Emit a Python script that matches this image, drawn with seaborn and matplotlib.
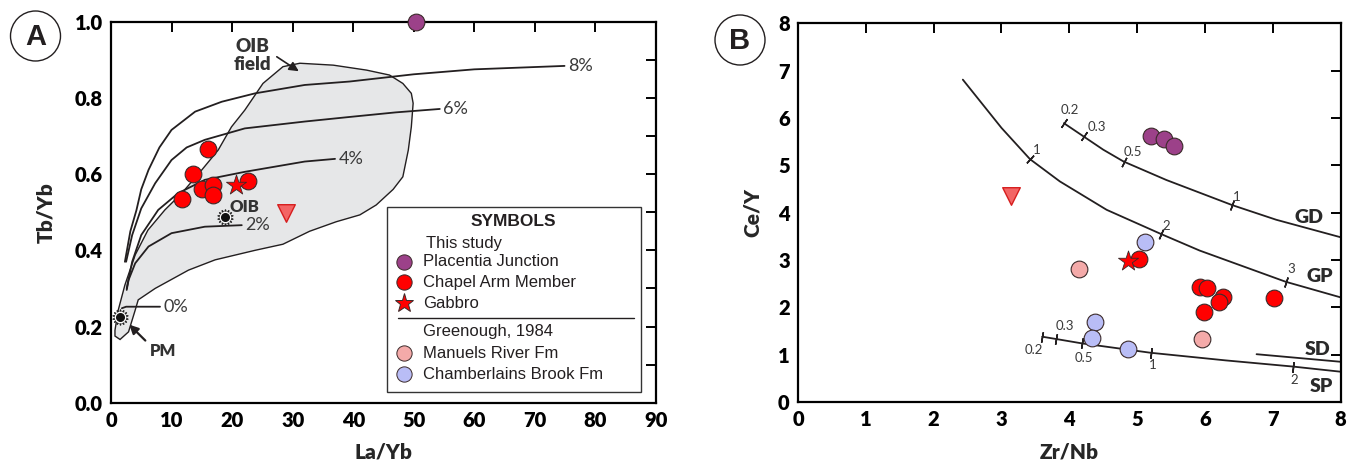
import numpy as np
import pandas as pd
import matplotlib
matplotlib.use("Agg")
import matplotlib.pyplot as plt
import seaborn as sns
from matplotlib.patches import Polygon, Ellipse, Rectangle
from matplotlib.lines import Line2D

# ---------------- Panel A data (La/Yb vs Tb/Yb) ----------------
a_pj_x = [50.3]
a_pj_y = [1.0]
a_ca_x = [16.0, 13.6, 15.0, 16.9, 16.9, 11.8, 22.7]
a_ca_y = [0.666, 0.600, 0.561, 0.571, 0.545, 0.534, 0.583]
a_gab_x = [20.6]
a_gab_y = [0.571]
a_tri_x = [28.9]
a_tri_y = [0.497]
a_ref_x = [18.9, 1.5]      # OIB, PM
a_ref_y = [0.487, 0.224]

oib_field_x = [1.5, 2.9, 4.0, 4.5, 7.3, 12.8, 17.2, 23.8, 28.4, 32.8, 37.2, 41.1, 43.8,
               46.6, 48.2, 49.1, 49.6, 49.9, 49.6, 48.2, 46.0, 42.2, 36.7, 31.2, 28.4,
               25.1, 22.1, 19.9, 17.7, 15.0, 11.7, 8.9, 6.1, 4.0, 2.3, 1.2, 0.66, 0.66]
oib_field_y = [0.166, 0.186, 0.243, 0.27, 0.30, 0.348, 0.375, 0.40, 0.416, 0.45, 0.475,
               0.493, 0.519, 0.56, 0.593, 0.663, 0.724, 0.786, 0.812, 0.838, 0.860,
               0.873, 0.886, 0.891, 0.882, 0.838, 0.768, 0.724, 0.663, 0.611, 0.55,
               0.506, 0.453, 0.388, 0.309, 0.243, 0.19, 0.175]

melt8_x = [2.3, 3.2, 4.2, 5.0, 6.2, 8.0, 10.0, 13.9, 18.3, 23.8, 32.0, 39.4, 50.0, 60.0, 74.9]
melt8_y = [0.37, 0.45, 0.505, 0.56, 0.611, 0.67, 0.716, 0.764, 0.79, 0.812, 0.834, 0.843, 0.862, 0.875, 0.884]
melt6_x = [2.5, 3.5, 5.0, 7.3, 10.0, 12.5, 15.5, 22.1, 32.0, 39.4, 47.0, 54.3]
melt6_y = [0.37, 0.44, 0.51, 0.576, 0.637, 0.67, 0.69, 0.72, 0.738, 0.750, 0.762, 0.771]
melt4_x = [2.6, 3.5, 5.0, 7.8, 11.1, 15.5, 22.1, 32.0, 37.0]
melt4_y = [0.30, 0.37, 0.44, 0.506, 0.55, 0.585, 0.606, 0.633, 0.640]
melt2_x = [2.6, 2.9, 4.0, 6.2, 10.0, 15.5, 21.6]
melt2_y = [0.296, 0.322, 0.366, 0.41, 0.445, 0.462, 0.466]
melt0_x = [1.8, 2.5, 8.1]
melt0_y = [0.248, 0.252, 0.252]
melt_labels = ["8%", "6%", "4%", "2%", "0%"]
melt_label_x = [74.9, 54.3, 37.0, 21.6, 8.1]
melt_label_y = [0.884, 0.771, 0.640, 0.466, 0.252]

# ---------------- Panel B data (Zr/Nb vs Ce/Y) ----------------
b_pj_x = [5.20, 5.39, 5.55]
b_pj_y = [5.61, 5.55, 5.40]
b_ca_x = [5.03, 5.92, 6.03, 6.27, 6.20, 5.98, 7.01]
b_ca_y = [3.02, 2.42, 2.40, 2.21, 2.12, 1.91, 2.19]
b_gab_x = [4.87]
b_gab_y = [2.97]
b_tri_x = [3.14]
b_tri_y = [4.36]
b_mr_x = [4.14, 5.95]
b_mr_y = [2.80, 1.33]
b_cb_x = [5.11, 4.38, 4.33, 4.87]
b_cb_y = [3.38, 1.68, 1.36, 1.12]

gd_x = [3.92, 4.21, 4.50, 4.80, 5.43, 6.40, 7.05, 8.0]
gd_y = [5.89, 5.61, 5.33, 5.08, 4.69, 4.16, 3.85, 3.48]
gp_x = [2.43, 3.0, 3.42, 3.86, 4.55, 5.35, 5.92, 7.19, 8.0]
gp_y = [6.81, 5.79, 5.13, 4.66, 4.06, 3.55, 3.20, 2.54, 2.21]
sp_x = [3.60, 3.81, 4.18, 5.20, 6.30, 7.29, 8.0]
sp_y = [1.38, 1.33, 1.24, 1.04, 0.88, 0.75, 0.64]
sd_x = [6.76, 8.0]
sd_y = [1.01, 0.85]

gd_tick_x = [3.92, 4.21, 4.80, 6.40]
gd_tick_lab = ["0.2", "0.3", "0.5", "1"]
gd_lab_x = [4.01, 4.40, 4.94, 6.47]
gd_lab_y = [6.17, 5.81, 5.29, 4.34]
gp_tick_x = [3.42, 5.35, 7.19]
gp_tick_lab = ["1", "2", "3"]
gp_lab_x = [3.52, 5.43, 7.27]
gp_lab_y = [5.33, 3.72, 2.81]
sp_tick_x = [3.60, 3.81, 4.18, 5.20, 7.29]
sp_tick_lab = ["0.2", "0.3", "0.5", "1", "2"]
sp_lab_x = [3.47, 3.93, 4.21, 5.23, 7.32]
sp_lab_y = [1.10, 1.61, 0.94, 0.78, 0.47]
curve_names = ["GD", "GP", "SD", "SP"]
curve_name_x = [7.54, 7.69, 7.66, 7.71]
curve_name_y = [3.89, 2.66, 1.10, 0.32]

# ---------------- style ----------------
sns.set_style("white")
plt.rcParams["font.family"] = ["Lato", "DejaVu Sans"]
plt.rcParams["axes.linewidth"] = 1.5

C_PJ = "#9c4189"
C_RED = "#ff0000"
C_TRI = "#f36565"
C_MR = "#f4aaa9"
C_CB = "#b9bdf6"
C_LINE = "#231f20"
C_TXT = "#3a3a3a"
EDGE = "#3b2a2a"

fig = plt.figure(figsize=(13.5, 4.63), dpi=100)
axA = fig.add_axes([0.0822, 0.1302, 0.4037, 0.8229])
axB = fig.add_axes([0.5911, 0.1317, 0.4020, 0.8180])


def style_axes(ax, xt, yt, ylabels):
    ax.set_xticks(xt)
    ax.set_yticks(yt)
    ax.set_yticklabels(ylabels)
    ax.tick_params(direction="in", length=7, width=1.4, top=True, right=True,
                   labelsize=14.5, pad=6, colors="black")
    for lab in ax.get_xticklabels() + ax.get_yticklabels():
        lab.set_fontweight("heavy")
    for s in ax.spines.values():
        s.set_linewidth(1.6)
        s.set_color("black")


# ================= Panel A =================
ax = axA
ax.add_patch(Polygon(np.column_stack([oib_field_x, oib_field_y]), closed=True,
                     facecolor="#e6e7e8", edgecolor=C_LINE, lw=1.0, zorder=1))
for cx, cy in [(melt8_x, melt8_y), (melt6_x, melt6_y), (melt4_x, melt4_y),
               (melt2_x, melt2_y), (melt0_x, melt0_y)]:
    sns.lineplot(x=cx, y=cy, sort=False, estimator=None, color=C_LINE, lw=1.3, ax=ax, zorder=2)
for lab, lx, ly in zip(melt_labels, melt_label_x, melt_label_y):
    ax.text(lx + 0.6, ly, lab, fontsize=13, color=C_TXT, va="center", ha="left", zorder=5)

# reference points OIB & PM (sun symbol)
ax.scatter(a_ref_x, a_ref_y, marker=(14, 1, 0), s=120, color="#222", zorder=5)
ax.scatter(a_ref_x, a_ref_y, marker="o", s=55, color="white", zorder=6)
ax.scatter(a_ref_x, a_ref_y, marker="o", s=30, color="#111", zorder=7)

sns.scatterplot(x=a_ca_x, y=a_ca_y, marker="o", s=145, color=C_RED, edgecolor=EDGE,
                linewidth=0.8, ax=ax, zorder=8)
sns.scatterplot(x=a_gab_x, y=a_gab_y, marker="*", s=230, color=C_RED, edgecolor=EDGE,
                linewidth=0.6, ax=ax, zorder=8)
sns.scatterplot(x=a_tri_x, y=a_tri_y, marker="v", s=160, color=C_TRI, edgecolor="#d61e1e",
                linewidth=1.0, ax=ax, zorder=8)
sns.scatterplot(x=a_pj_x, y=a_pj_y, marker="o", s=145, color=C_PJ, edgecolor=EDGE,
                linewidth=0.8, ax=ax, zorder=10)
for c in ax.collections:
    c.set_clip_on(False)

ax.text(23.3, 0.912, "OIB\nfield", fontsize=13.5, fontweight="heavy", color="#333",
        ha="center", va="center", linespacing=1.1)
ax.annotate("", xy=(31.4, 0.866), xytext=(27.0, 0.912),
            arrowprops=dict(arrowstyle="-|>", color=C_LINE, lw=1.2, mutation_scale=14))
ax.text(22.1, 0.513, "OIB", fontsize=12, fontweight="heavy", color="#333", ha="center", va="center")
ax.text(8.6, 0.135, "PM", fontsize=12, fontweight="heavy", color="#333", ha="center", va="center")
ax.annotate("", xy=(2.7, 0.21), xytext=(6.0, 0.158),
            arrowprops=dict(arrowstyle="-|>", color=C_LINE, lw=1.6, mutation_scale=13))

ax.set_xlim(0, 90)
ax.set_ylim(0, 1.0)
a_xticks = [0, 10, 20, 30, 40, 50, 60, 70, 80, 90]
a_yticks = [0.0, 0.1, 0.2, 0.3, 0.4, 0.5, 0.6, 0.7, 0.8, 0.9, 1.0]
a_ylabels = ["0.0", "", "0.2", "", "0.4", "", "0.6", "", "0.8", "", "1.0"]
style_axes(ax, a_xticks, a_yticks, a_ylabels)
ax.set_xlabel("La/Yb", fontsize=15, fontweight="heavy")
ax.set_ylabel("Tb/Yb", fontsize=15, fontweight="heavy")
ax.xaxis.set_label_coords(0.5, -0.104)
ax.yaxis.set_label_coords(-0.103, 0.5)

# legend box (manual layout)
T = ax.transAxes
ax.add_patch(Rectangle((0.507, 0.029), 0.465, 0.484, transform=T, facecolor="white",
                       edgecolor="#333", lw=1.0, zorder=11))
lf = ["Liberation Sans", "DejaVu Sans"]
ax.text(0.739, 0.475, "SYMBOLS", transform=T, fontsize=12.5, fontweight="bold",
        family=lf, ha="center", va="center", color="#231f20", zorder=12)
ax.text(0.578, 0.417, "This study", transform=T, fontsize=12, family=lf,
        ha="left", va="center", color="#231f20", zorder=12)
ax.text(0.573, 0.186, "Greenough, 1984", transform=T, fontsize=12, family=lf,
        ha="left", va="center", color="#231f20", zorder=12)
ax.add_line(Line2D([0.527, 0.960], [0.2215, 0.2215], transform=T, color="#231f20",
                   lw=1.0, zorder=12))
leg_rows = [("Placentia Junction", "o", C_PJ, 0.370, 11),
            ("Chapel Arm Member", "o", C_RED, 0.316, 11),
            ("Gabbro", "*", C_RED, 0.261, 14),
            ("Manuels River Fm", "o", C_MR, 0.130, 11),
            ("Chamberlains Brook Fm", "o", C_CB, 0.075, 11)]
for lab, mk, col, yy, ms in leg_rows:
    ax.add_line(Line2D([0.538], [yy], transform=T, marker=mk, markersize=ms, color=col,
                       markeredgecolor=EDGE, markeredgewidth=0.7, lw=0, zorder=13))
    ax.text(0.573, yy, lab, transform=T, fontsize=12, family=lf, ha="left",
            va="center", color="#231f20", zorder=13)

# ================= Panel B =================
ax = axB
ax.set_xlim(0, 8)
ax.set_ylim(0, 8)
for cx, cy in [(gd_x, gd_y), (gp_x, gp_y), (sp_x, sp_y), (sd_x, sd_y)]:
    sns.lineplot(x=cx, y=cy, sort=False, estimator=None, color=C_LINE, lw=1.3, ax=ax, zorder=2)

fig.canvas.draw()


def curve_ticks(ax, cx, cy, tx):
    for x in tx:
        d = 0.05
        x0, x1 = max(x - d, cx[0]), min(x + d, cx[-1])
        p0 = ax.transData.transform((x0, np.interp(x0, cx, cy)))
        p1 = ax.transData.transform((x1, np.interp(x1, cx, cy)))
        ang = np.degrees(np.arctan2(p1[1] - p0[1], p1[0] - p0[0]))
        ax.plot([x], [np.interp(x, cx, cy)], marker=(2, 2, ang), ms=7.5, mew=1.1,
                color=C_LINE, lw=0, zorder=3)


curve_ticks(ax, gd_x, gd_y, gd_tick_x)
curve_ticks(ax, gp_x, gp_y, gp_tick_x)
curve_ticks(ax, sp_x, sp_y, sp_tick_x)
for labs, lxs, lys in [(gd_tick_lab, gd_lab_x, gd_lab_y), (gp_tick_lab, gp_lab_x, gp_lab_y),
                       (sp_tick_lab, sp_lab_x, sp_lab_y)]:
    for lab, lx, ly in zip(labs, lxs, lys):
        ax.text(lx, ly, lab, fontsize=9.5, color=C_TXT, ha="center", va="center", zorder=4)
for lab, lx, ly in zip(curve_names, curve_name_x, curve_name_y):
    ax.text(lx, ly, lab, fontsize=14, fontweight="heavy", color="#2a2a2a",
            ha="center", va="center", zorder=4)

sns.scatterplot(x=b_tri_x, y=b_tri_y, marker="v", s=160, color=C_TRI, edgecolor="#d61e1e",
                linewidth=1.0, ax=ax, zorder=8)
sns.scatterplot(x=b_mr_x, y=b_mr_y, marker="o", s=145, color=C_MR, edgecolor=EDGE,
                linewidth=0.8, ax=ax, zorder=8)
sns.scatterplot(x=b_cb_x, y=b_cb_y, marker="o", s=145, color=C_CB, edgecolor=EDGE,
                linewidth=0.8, ax=ax, zorder=8)
sns.scatterplot(x=b_pj_x, y=b_pj_y, marker="o", s=145, color=C_PJ, edgecolor=EDGE,
                linewidth=0.8, ax=ax, zorder=8)
sns.scatterplot(x=b_ca_x, y=b_ca_y, marker="o", s=145, color=C_RED, edgecolor=EDGE,
                linewidth=0.8, ax=ax, zorder=8)
sns.scatterplot(x=b_gab_x, y=b_gab_y, marker="*", s=230, color=C_RED, edgecolor=EDGE,
                linewidth=0.6, ax=ax, zorder=9)

b_ticks = [0, 1, 2, 3, 4, 5, 6, 7, 8]
style_axes(ax, b_ticks, b_ticks, [str(t) for t in b_ticks])
ax.set_xlabel("Zr/Nb", fontsize=15, fontweight="heavy")
ax.set_ylabel("Ce/Y", fontsize=15, fontweight="heavy")
ax.xaxis.set_label_coords(0.5, -0.106)
ax.yaxis.set_label_coords(-0.066, 0.5)

# panel letters
for (cxp, cyp, letter) in [(35.5, 36.0, "A"), (740.0, 40.0, "B")]:
    fx, fy = cxp / 1350, 1 - cyp / 463
    fig.add_artist(Ellipse((fx, fy), 50 / 1350, 50 / 463, transform=fig.transFigure,
                           facecolor="white", edgecolor="#231f20", lw=1.0))
    fig.text(fx, fy - 0.002, letter, fontsize=21, fontweight="bold",
             family=["Liberation Sans", "DejaVu Sans"], ha="center", va="center", color="#231f20")

fig.savefig("out.png", dpi=100)
